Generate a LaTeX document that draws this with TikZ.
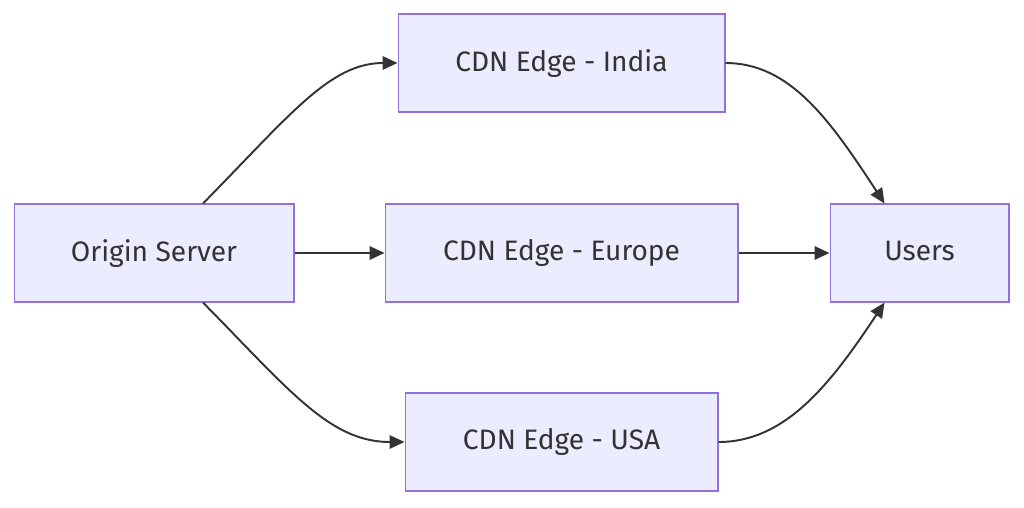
\documentclass[tikz,border=0pt]{standalone}
\usepackage{fontspec}
\setmainfont{Fira Sans}
\usetikzlibrary{arrows.meta}

\definecolor{boxfill}{HTML}{ECECFF}
\definecolor{boxline}{HTML}{9370DB}
\definecolor{textgray}{HTML}{333333}

\tikzset{
	cdnbox/.style={draw=boxline, fill=boxfill, line width=0.6pt, text=textgray,
		minimum height=1.96cm, inner sep=0pt, text depth=0.3em,
		font=\fontsize{16}{19}\selectfont},
	flow/.style={draw=textgray, line width=1.1pt,
		-{Triangle[length=0.3cm, width=0.27cm]}}
}

\begin{document}
\begin{tikzpicture}[x=0.02cm, y=-0.02cm]
	\useasboundingbox (0,0) rectangle (1024,507);
	\node[cdnbox, minimum width=5.6cm] (origin) at (154,253) {Origin Server};
	\node[cdnbox, minimum width=6.54cm] (india) at (561.5,63) {CDN Edge - India};
	\node[cdnbox, minimum width=7.06cm] (europe) at (561.5,253) {CDN Edge - Europe};
	\node[cdnbox, minimum width=6.26cm] (usa) at (561.5,442) {CDN Edge - USA};
	\node[cdnbox, minimum width=3.58cm] (users) at (919.5,253) {Users};

	% origin to the edges
	\draw[flow] ([xshift=0.98cm]origin.north) .. controls (290,115) and (330,63) .. (india.west);
	\draw[flow] (origin.east) -- (europe.west);
	\draw[flow] ([xshift=0.98cm]origin.south) .. controls (290,391) and (330,442) .. (usa.west);

	% edges to users
	\draw[flow] (india.east) .. controls (790,63) and (830,120) .. ([xshift=-0.7cm]users.north);
	\draw[flow] (europe.east) -- (users.west);
	\draw[flow] (usa.east) .. controls (785,442) and (830,385) .. ([xshift=-0.7cm]users.south);
\end{tikzpicture}
\end{document}
